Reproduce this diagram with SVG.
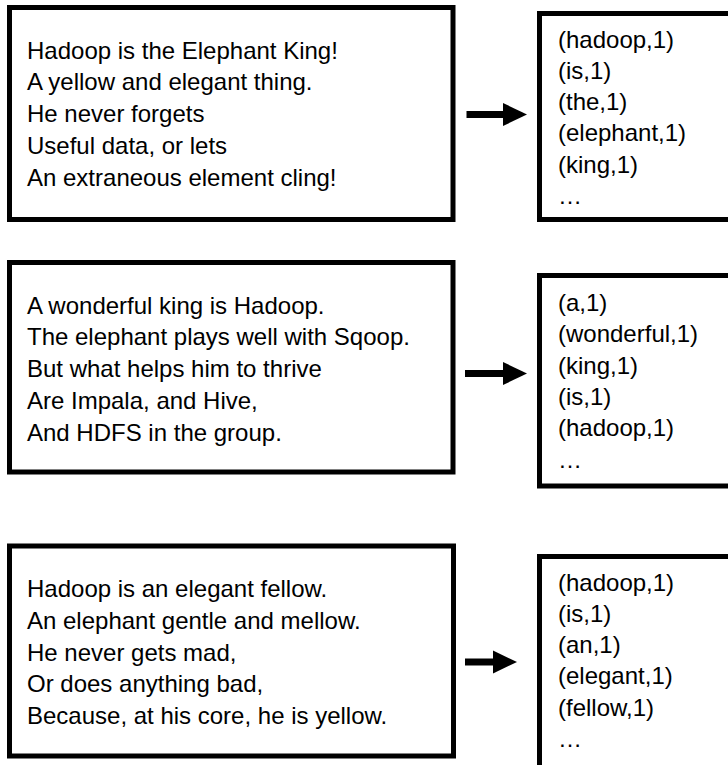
<svg xmlns="http://www.w3.org/2000/svg" width="728" height="765" viewBox="0 0 728 765">
<style>
.box{fill:#fff;stroke:#000;stroke-width:5}
.t{font-family:"Liberation Sans",Arial,sans-serif;font-size:24px;fill:#000}
.arr{stroke:#000;stroke-width:7;fill:none}
</style>
<defs>
<marker id="ah" markerUnits="userSpaceOnUse" markerWidth="24" markerHeight="23" refX="0" refY="11.5" orient="auto" overflow="visible">
<path d="M0,0 L24,11.5 L0,23 z" fill="#000"/>
</marker>
</defs>
<rect width="728" height="765" fill="#fff"/>
<g id="poem1">
<rect class="box" x="9.5" y="7.5" width="443.5" height="212"/>
<text class="t" x="27"><tspan x="27" y="58.5">Hadoop is the Elephant King!</tspan><tspan x="27" y="90.25">A yellow and elegant thing.</tspan><tspan x="27" y="122">He never forgets</tspan><tspan x="27" y="153.75">Useful data, or lets</tspan><tspan x="27" y="185.5">An extraneous element cling!</tspan></text>
</g>
<g id="pairs1">
<rect class="box" x="539.5" y="13.5" width="200" height="206"/>
<text class="t"><tspan x="558" y="47.5">(hadoop,1)</tspan><tspan x="558" y="78.8">(is,1)</tspan><tspan x="558" y="110.1">(the,1)</tspan><tspan x="558" y="141.4">(elephant,1)</tspan><tspan x="558" y="172.7">(king,1)</tspan><tspan x="558" y="204">…</tspan></text>
</g>
<g id="poem2">
<rect class="box" x="9.5" y="262.5" width="443.5" height="209.5"/>
<text class="t"><tspan x="27" y="313.5">A wonderful king is Hadoop.</tspan><tspan x="27" y="345.25">The elephant plays well with Sqoop.</tspan><tspan x="27" y="377">But what helps him to thrive</tspan><tspan x="27" y="408.75">Are Impala, and Hive,</tspan><tspan x="27" y="440.5">And HDFS in the group.</tspan></text>
</g>
<g id="pairs2">
<rect class="box" x="539.5" y="275.5" width="200" height="210.5"/>
<text class="t"><tspan x="558" y="311">(a,1)</tspan><tspan x="558" y="342.3">(wonderful,1)</tspan><tspan x="558" y="373.6">(king,1)</tspan><tspan x="558" y="404.9">(is,1)</tspan><tspan x="558" y="436.2">(hadoop,1)</tspan><tspan x="558" y="467.5">…</tspan></text>
</g>
<g id="poem3">
<rect class="box" x="9.5" y="546" width="444" height="210"/>
<text class="t"><tspan x="27" y="597">Hadoop is an elegant fellow.</tspan><tspan x="27" y="628.75">An elephant gentle and mellow.</tspan><tspan x="27" y="660.5">He never gets mad,</tspan><tspan x="27" y="692.25">Or does anything bad,</tspan><tspan x="27" y="724">Because, at his core, he is yellow.</tspan></text>
</g>
<g id="pairs3">
<rect class="box" x="539.5" y="556.5" width="200" height="220"/>
<text class="t"><tspan x="558" y="590.5">(hadoop,1)</tspan><tspan x="558" y="621.8">(is,1)</tspan><tspan x="558" y="653.1">(an,1)</tspan><tspan x="558" y="684.4">(elegant,1)</tspan><tspan x="558" y="715.7">(fellow,1)</tspan><tspan x="558" y="747">…</tspan></text>
</g>
<g id="connectors">
<line class="arr" x1="466.5" y1="114.5" x2="503" y2="114.5" marker-end="url(#ah)"/>
<line class="arr" x1="465" y1="373.5" x2="503" y2="373.5" marker-end="url(#ah)"/>
<line class="arr" x1="465" y1="662" x2="493" y2="662" marker-end="url(#ah)"/>
</g>
</svg>
